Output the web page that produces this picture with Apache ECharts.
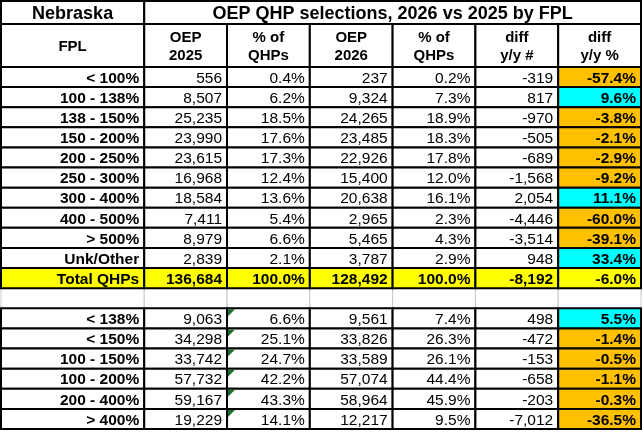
<!DOCTYPE html>
<html>
<head>
<meta charset="utf-8">
<script src="https://cdn.jsdelivr.net/npm/echarts@6/dist/echarts.min.js"></script>
<style>
html, body { margin: 0; padding: 0; background: #fff; }
#table { width: 643px; height: 432px; }
</style>
</head>
<body>
<div id="table"></div>
<script>
// upper block: by FPL band
const fplLabels = ['< 100%', '100 - 138%', '138 - 150%', '150 - 200%', '200 - 250%',
    '250 - 300%', '300 - 400%', '400 - 500%', '> 500%', 'Unk/Other'];
const oep2025 = [556, 8507, 25235, 23990, 23615, 16968, 18584, 7411, 8979, 2839];
const pct2025 = [0.4, 6.2, 18.5, 17.6, 17.3, 12.4, 13.6, 5.4, 6.6, 2.1];
const oep2026 = [237, 9324, 24265, 23485, 22926, 15400, 20638, 2965, 5465, 3787];
const pct2026 = [0.2, 7.3, 18.9, 18.3, 17.8, 12.0, 16.1, 2.3, 4.3, 2.9];
const diffNum = [-319, 817, -970, -505, -689, -1568, 2054, -4446, -3514, 948];
const diffPct = [-57.4, 9.6, -3.8, -2.1, -2.9, -9.2, 11.1, -60.0, -39.1, 33.4];

// total row
const totalLabel = 'Total QHPs';
const totalValues = [136684, 100.0, 128492, 100.0, -8192, -6.0];

// lower block: grouped bands
const groupLabels = ['< 138%', '< 150%', '100 - 150%', '100 - 200%', '200 - 400%', '> 400%'];
const group2025 = [9063, 34298, 33742, 57732, 59167, 19229];
const groupPct2025 = [6.6, 25.1, 24.7, 42.2, 43.3, 14.1];
const group2026 = [9561, 33826, 33589, 57074, 58964, 12217];
const groupPct2026 = [7.4, 26.3, 26.1, 44.4, 45.9, 9.5];
const groupDiff = [498, -472, -153, -658, -203, -7012];
const groupDiffPct = [5.5, -1.4, -0.5, -1.1, -0.3, -36.5];

const stateName = 'Nebraska';
const tableTitle = 'OEP QHP selections, 2026 vs 2025 by FPL';
const headers = ['FPL', 'OEP\n2025', '% of\nQHPs', 'OEP\n2026', '% of\nQHPs', 'diff\ny/y #', 'diff\ny/y %'];

// layout (column / row weights)
const colWeights = [1.73, 1, 1, 1, 1, 1, 1];
const rowWeights = [1.14, 2.14].concat(new Array(18).fill(1));
const colEdges = [0];
colWeights.forEach(w => colEdges.push(colEdges[colEdges.length - 1] + w));
const rowEdges = [0];
rowWeights.forEach(w => rowEdges.push(rowEdges[rowEdges.length - 1] + w));

const FONT = '"Liberation Sans", Arial, sans-serif';
const ORANGE = '#ffc000';
const CYAN = '#00ffff';
const YELLOW = '#ffff00';

const fmtNum = v => v.toLocaleString('en-US');
const fmtPct = v => v.toFixed(1) + '%';

const cells = [];
function addCell(c0, c1, r, text, opts) {
    cells.push(Object.assign({
        c0: c0, c1: c1, r: r, text: text,
        bold: false, align: 'right', fill: '#fff',
        stroke: '#000', lw: 2, size: 15.5, flag: false
    }, opts || {}));
}

// empty spacer row goes first so black borders draw over it
for (let c = 0; c < 7; c++) {
    addCell(c, c, 13, '', { stroke: '#c8c8c8', lw: 1 });
}

addCell(0, 0, 0, stateName, { bold: true, align: 'center', size: 18 });
addCell(1, 6, 0, tableTitle, { bold: true, align: 'center', size: 18 });
headers.forEach((h, c) => addCell(c, c, 1, h, { bold: true, align: 'center', size: 15 }));

function addRow(r, label, vals, flag) {
    addCell(0, 0, r, label, { bold: true });
    addCell(1, 1, r, fmtNum(vals[0]));
    addCell(2, 2, r, fmtPct(vals[1]), { flag: flag });
    addCell(3, 3, r, fmtNum(vals[2]));
    addCell(4, 4, r, fmtPct(vals[3]));
    addCell(5, 5, r, fmtNum(vals[4]));
    addCell(6, 6, r, fmtPct(vals[5]), { bold: true, fill: vals[5] >= 0 ? CYAN : ORANGE });
}

fplLabels.forEach((lab, i) => {
    addRow(2 + i, lab, [oep2025[i], pct2025[i], oep2026[i], pct2026[i], diffNum[i], diffPct[i]], false);
});

addCell(0, 0, 12, totalLabel, { bold: true, fill: YELLOW });
addCell(1, 1, 12, fmtNum(totalValues[0]), { bold: true, fill: YELLOW });
addCell(2, 2, 12, fmtPct(totalValues[1]), { bold: true, fill: YELLOW });
addCell(3, 3, 12, fmtNum(totalValues[2]), { bold: true, fill: YELLOW });
addCell(4, 4, 12, fmtPct(totalValues[3]), { bold: true, fill: YELLOW });
addCell(5, 5, 12, fmtNum(totalValues[4]), { bold: true, fill: YELLOW });
addCell(6, 6, 12, fmtPct(totalValues[5]), { bold: true, fill: YELLOW });

groupLabels.forEach((lab, i) => {
    addRow(14 + i, lab, [group2025[i], groupPct2025[i], group2026[i], groupPct2026[i], groupDiff[i], groupDiffPct[i]], true);
});

function renderCell(params, api) {
    const cell = cells[params.dataIndex];
    const p0 = api.coord([colEdges[cell.c0], rowEdges[cell.r]]);
    const p1 = api.coord([colEdges[cell.c1 + 1], rowEdges[cell.r + 1]]);
    const children = [{
        type: 'rect',
        shape: { x: p0[0], y: p0[1], width: p1[0] - p0[0], height: p1[1] - p0[1] },
        style: { fill: cell.fill, stroke: cell.stroke, lineWidth: cell.lw }
    }];
    if (cell.flag) {
        children.push({
            type: 'polygon',
            shape: { points: [[p0[0] + 1, p0[1] + 1], [p0[0] + 8, p0[1] + 1], [p0[0] + 1, p0[1] + 8]] },
            style: { fill: '#1d6e2f' }
        });
    }
    if (cell.text) {
        const x = cell.align === 'right' ? p1[0] - 5 : (p0[0] + p1[0]) / 2;
        children.push({
            type: 'text',
            style: {
                text: cell.text,
                x: x,
                y: (p0[1] + p1[1]) / 2 + 1.5,
                align: cell.align,
                verticalAlign: 'middle',
                font: (cell.bold ? 'bold ' : '') + cell.size + 'px ' + FONT,
                lineHeight: 18.5,
                fill: '#000'
            }
        });
    }
    return { type: 'group', children: children };
}

const myChart = echarts.init(document.getElementById('table'));
let option;
option = {
    animation: false,
    grid: { left: 1, top: 1, width: 640, height: 428 },
    xAxis: { type: 'value', min: 0, max: colEdges[colEdges.length - 1], show: false },
    yAxis: { type: 'value', min: 0, max: rowEdges[rowEdges.length - 1], inverse: true, show: false },
    series: [
        {
            type: 'custom',
            renderItem: renderCell,
            data: cells.map(c => [c.c0, c.r]),
            silent: true
        }
    ]
};
myChart.setOption(option);
</script>
</body>
</html>
